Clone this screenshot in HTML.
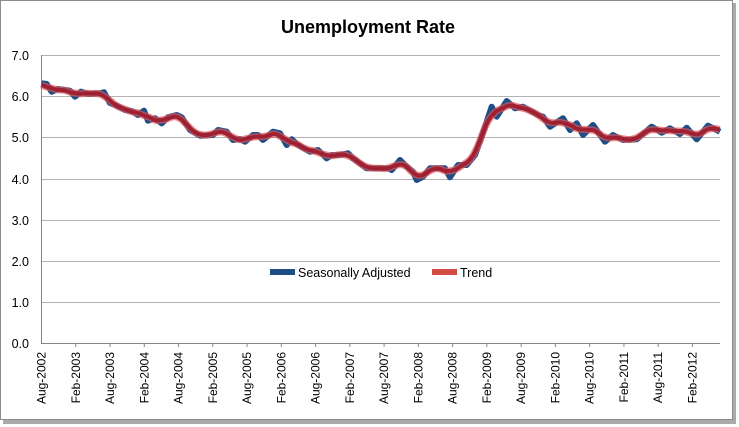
<!DOCTYPE html>
<html><head><meta charset="utf-8"><style>
html,body{margin:0;padding:0;background:#fff;width:739px;height:427px;overflow:hidden}
svg{display:block;font-family:"Liberation Sans",sans-serif}
</style></head><body>
<svg width="739" height="427" viewBox="0 0 739 427" xmlns="http://www.w3.org/2000/svg">
<rect x="3" y="3" width="733" height="421" fill="#aaa"/>
<rect x="0.5" y="0.5" width="732" height="419" fill="#fff" stroke="#8c8c8c"/>
<text x="368" y="33" text-anchor="middle" font-size="18" font-weight="bold" fill="#000">Unemployment Rate</text>
<g stroke="#b3b3b3" stroke-width="1">
<line x1="41" x2="720" y1="55.5" y2="55.5"/><line x1="41" x2="720" y1="96.5" y2="96.5"/>
<line x1="41" x2="720" y1="137.5" y2="137.5"/><line x1="41" x2="720" y1="179.5" y2="179.5"/>
<line x1="41" x2="720" y1="220.5" y2="220.5"/><line x1="41" x2="720" y1="261.5" y2="261.5"/>
<line x1="41" x2="720" y1="302.5" y2="302.5"/>
</g>
<g stroke="#868686"><line x1="41.5" x2="41.5" y1="55" y2="344"/><line x1="41" x2="720" y1="343.5" y2="343.5"/></g>
<g id="ticks" stroke="#868686"></g>
<g font-size="12.5" fill="#000" text-anchor="end">
<text x="29" y="60">7.0</text><text x="29" y="101">6.0</text><text x="29" y="142">5.0</text>
<text x="29" y="184">4.0</text><text x="29" y="225">3.0</text><text x="29" y="266">2.0</text>
<text x="29" y="307">1.0</text><text x="29" y="348">0.0</text>
</g>
<g id="xl" font-size="12" fill="#000" text-anchor="end"></g>
<polyline id="blue" fill="none" stroke="#1F4E87" stroke-width="6" stroke-linejoin="round"/>
<polyline id="red2" fill="none" stroke="#E05A5A" stroke-opacity="0.7" stroke-width="7" stroke-linejoin="round"/>
<polyline id="red" fill="none" stroke="#9E1B2C" stroke-opacity="0.9" stroke-width="4" stroke-linejoin="round"/>
<line x1="270" x2="295" y1="272" y2="272" stroke="#1F4E87" stroke-width="6"/>
<text x="298" y="277" font-size="12.5">Seasonally Adjusted</text>
<line x1="432" x2="457" y1="272" y2="272" stroke="#D24B45" stroke-width="6"/>
<text x="460" y="277" font-size="12.5">Trend</text>
</svg>
<script>
var P=[[41.7,83.3],[46.7,84],[51.7,91.7],[58,89],[70,90.7],[75,96.7],[81,91.7],[88,94],[100,93.3],[104,92.3],[110,103],[116.7,105.7],[125,110],[131.7,111],[138,115],[144,110.7],[148,120.7],[155,118.3],[161.7,123.3],[168,117.3],[176.7,115],[181.7,117.3],[190,130],[200,135.7],[213,135],[218,130],[226.7,131.7],[233,140],[240,139],[245,141.7],[253,135],[258,135],[263,140],[273,131.7],[280,133.3],[286.7,145],[291.7,139.3],[298,145],[310,151.7],[318,150],[326.7,158.3],[331.7,155],[340,155],[348,153.3],[353,158.3],[366.7,168.3],[376.7,168.3],[388,168.3],[391.7,170],[400,160],[406.7,166.7],[413,171.7],[416.7,180],[423,176.7],[430,168.3],[445,168.3],[450,177.3],[458,165],[466.7,165],[475,155],[481.7,136.7],[491.7,106.7],[496.7,116.7],[506.7,101],[515,108.3],[523,106.7],[538,115],[543,116.7],[550,126.7],[563,118.3],[570,130],[576.7,123.3],[583,135],[593,125],[605,141.7],[613,135],[623,140],[636.7,139.3],[651.7,126.7],[661.7,132.7],[670,128.3],[680,134],[686.7,127.7],[696.7,139.3],[708,125.7],[720,131.7]];
document.getElementById('blue').setAttribute('points',P.map(p=>p.join(',')).join(' '));
function yAt(x){for(var i=0;i<P.length-1;i++){if(x<=P[i+1][0]){var t=(x-P[i][0])/(P[i+1][0]-P[i][0]);return P[i][1]+t*(P[i+1][1]-P[i][1]);}}return P[P.length-1][1];}
var s=[];for(var x=41.7;x<=720;x+=1)s.push([x,yAt(x)]);
var r=[];for(var i=0;i<s.length;i+=3){var a=0,n=0;for(var j=i-8;j<=i+8;j++){if(j>=0&&j<s.length){a+=s[j][1];n++;}}r.push(s[i][0].toFixed(1)+','+(a/n).toFixed(1));}
document.getElementById('red').setAttribute('points',r.join(' '));
document.getElementById('red2').setAttribute('points',r.join(' '));
var L=['Aug-2002','Feb-2003','Aug-2003','Feb-2004','Aug-2004','Feb-2005','Aug-2005','Feb-2006','Aug-2006','Feb-2007','Aug-2007','Feb-2008','Aug-2008','Feb-2009','Aug-2009','Feb-2010','Aug-2010','Feb-2011','Aug-2011','Feb-2012'];
var tk='',xl='';
for(var k=0;k<L.length;k++){var x=41.5+k*34.26;if(k>0)tk+='<line x1="'+x+'" x2="'+x+'" y1="343" y2="347"/>';xl+='<text transform="translate('+(x+4)+',352) rotate(-90)">'+L[k]+'</text>';}
document.getElementById('ticks').innerHTML=tk;document.getElementById('xl').innerHTML=xl;
</script>
</body></html>
